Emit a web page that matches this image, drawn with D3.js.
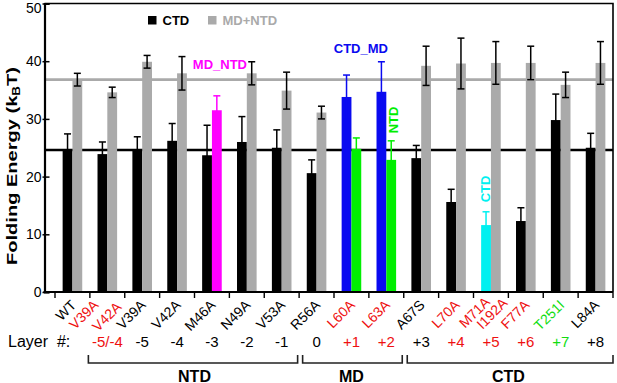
<!DOCTYPE html>
<html>
<head>
<meta charset="utf-8">
<script src="https://cdn.jsdelivr.net/npm/d3@7"></script>
<style>
  body { margin: 0; background: #fff; }
  svg { display: block; font-family: "Liberation Sans", Arial, sans-serif; }
</style>
</head>
<body>
<div id="chart"></div>
<script>
// mutants along the x axis (two line labels use "|")
var categories = ["WT", "V39A|V42A", "V39A", "V42A", "M46A", "N49A", "V53A", "R56A",
                  "L60A", "L63A", "A67S", "L70A", "M71A|I192A", "F77A", "T251I", "L84A"];
var layers = ["", "-5/-4", "-5", "-4", "-3", "-2", "-1", "0",
              "+1", "+2", "+3", "+4", "+5", "+6", "+7", "+8"];
// 0 = plain, 1 = red, 2 = green
var highlight = [0, 1, 0, 0, 0, 0, 0, 0, 1, 1, 0, 1, 1, 1, 2, 0];

// first bar of each pair (CTD)
var ctdValues = [24.6, 23.9, 24.6, 26.2, 23.7, 26.0, 25.0, 20.6, 33.8, 34.7, 23.2, 15.6, 11.6, 12.3, 29.8, 25.0];
var ctdErrors = [2.8, 2.1, 2.3, 3.0, 5.2, 4.4, 3.1, 2.3, 3.8, 5.2, 2.2, 2.2, 2.3, 2.3, 4.5, 2.5];
var ctdConstruct = ["CTD", "CTD", "CTD", "CTD", "CTD", "CTD", "CTD", "CTD",
                    "CTD_MD", "CTD_MD", "CTD", "CTD", "CTD*", "CTD", "CTD", "CTD"];

// second bar of each pair (MD+NTD)
var mdntdValues = [36.8, 34.6, 39.9, 37.9, 31.5, 37.9, 34.9, 31.1, 24.8, 22.9, 39.2, 39.6, 39.7, 39.7, 35.9, 39.7];
var mdntdErrors = [1.1, 0.9, 1.1, 2.9, 2.5, 2.0, 3.2, 1.1, 1.9, 3.3, 3.4, 4.4, 3.7, 2.9, 2.2, 3.7];
var mdntdConstruct = ["MD+NTD", "MD+NTD", "MD+NTD", "MD+NTD", "MD_NTD", "MD+NTD", "MD+NTD", "MD+NTD",
                      "NTD", "NTD", "MD+NTD", "MD+NTD", "MD+NTD", "MD+NTD", "MD+NTD", "MD+NTD"];

// WT reference levels
var wtLevels = [24.6, 36.8];

var yTicks = [0, 10, 20, 30, 40, 50];

var groups = [
    {name: "NTD", from: 1, to: 6},
    {name: "MD", from: 7, to: 9},
    {name: "CTD", from: 10, to: 15}
];

function init(){

    var W = 617, H = 383;
    var left = 44.5, right = 613, top = 3.5, bottom = 292;

    var colorOf = {
        "CTD": "#000000",
        "CTD*": "#00f0f0",
        "CTD_MD": "#0a0af0",
        "MD+NTD": "#aaaaaa",
        "MD_NTD": "#ff00ff",
        "NTD": "#00ee00"
    };
    var errColorOf = {
        "CTD": "#000", "CTD*": "#00f0f0", "CTD_MD": "#0a0af0",
        "MD+NTD": "#000", "MD_NTD": "#ff00ff", "NTD": "#00ee00"
    };
    var textColors = ["#000000", "#ee1111", "#11dd11"];

    var svg = d3.select("#chart")
                .append("svg")
                .attr("width", W)
                .attr("height", H);

    var yScale = d3.scaleLinear()
                .domain([0, 50])
                .range([bottom, top]);

    var xScale = d3.scaleBand()
                .domain(d3.range(categories.length))
                .range([55, right])
                .padding(0);

    var bw = xScale.bandwidth();
    var barW = 9.8;
    function cx(i){ return xScale(i) + bw / 2; }

    // WT reference lines (behind the bars)
    svg.selectAll("line.ref")
        .data(wtLevels)
        .enter()
        .append("line")
        .attr("class", "ref")
        .attr("x1", left)
        .attr("x2", right)
        .attr("y1", function(d){ return yScale(d); })
        .attr("y2", function(d){ return yScale(d); })
        .attr("stroke", function(d, i){ return i == 0 ? "#000" : "#aaaaaa"; })
        .attr("stroke-width", 2.6);

    // build the bar records
    var bars = [];
    categories.forEach(function(c, i){
        bars.push({i: i, side: 0, v: ctdValues[i], e: ctdErrors[i], k: ctdConstruct[i]});
        bars.push({i: i, side: 1, v: mdntdValues[i], e: mdntdErrors[i], k: mdntdConstruct[i]});
    });

    svg.selectAll("rect.bar")
        .data(bars)
        .enter()
        .append("rect")
        .attr("class", "bar")
        .attr("x", function(d){ return cx(d.i) - (d.side == 0 ? barW : 0); })
        .attr("y", function(d){ return yScale(d.v); })
        .attr("width", barW)
        .attr("height", function(d){ return yScale(0) - yScale(d.v); })
        .attr("fill", function(d){ return colorOf[d.k]; });

    // error bars
    var eb = svg.selectAll("g.err")
        .data(bars)
        .enter()
        .append("g")
        .attr("class", "err")
        .attr("stroke", function(d){ return errColorOf[d.k]; })
        .attr("stroke-width", 1.5)
        .attr("transform", function(d){
            return "translate(" + (cx(d.i) + (d.side == 0 ? -barW / 2 : barW / 2)) + ",0)";
        });
    eb.append("line")
        .attr("x1", 0).attr("x2", 0)
        .attr("y1", function(d){ return yScale(d.v - d.e); })
        .attr("y2", function(d){ return yScale(d.v + d.e); });
    eb.append("line")
        .attr("x1", -3.5).attr("x2", 3.5)
        .attr("y1", function(d){ return yScale(d.v + d.e); })
        .attr("y2", function(d){ return yScale(d.v + d.e); });
    eb.append("line")
        .attr("x1", -3.5).attr("x2", 3.5)
        .attr("y1", function(d){ return yScale(d.v - d.e); })
        .attr("y2", function(d){ return yScale(d.v - d.e); });

    // frame: top and right
    svg.append("path")
        .attr("d", "M" + left + "," + top + "H" + right + "V" + bottom)
        .attr("fill", "none")
        .attr("stroke", "#000")
        .attr("stroke-width", 1.6);

    // y axis
    var yAxis = d3.axisLeft(yScale)
        .tickValues(yTicks)
        .tickSize(-5)
        .tickPadding(3);
    var gy = svg.append("g")
        .attr("transform", "translate(" + left + ",0)")
        .call(yAxis);
    gy.select(".domain").attr("stroke-width", 2.2);
    gy.selectAll(".tick line").attr("stroke-width", 1.5).attr("x1", -2);
    gy.selectAll("text")
        .attr("font-size", "14px")
        .attr("font-family", "Liberation Sans, Arial, sans-serif")
        .attr("fill", "#000");
    // keep the top label inside the picture
    gy.selectAll(".tick text")
        .filter(function(d){ return d == 50; })
        .attr("dy", "0.62em");

    // x axis line and category boundary ticks
    svg.append("line")
        .attr("x1", left - 1).attr("x2", right)
        .attr("y1", bottom).attr("y2", bottom)
        .attr("stroke", "#000")
        .attr("stroke-width", 2);
    svg.selectAll("line.xtick")
        .data(d3.range(categories.length + 1))
        .enter()
        .append("line")
        .attr("class", "xtick")
        .attr("x1", function(d){ return 55 + d * bw; })
        .attr("x2", function(d){ return 55 + d * bw; })
        .attr("y1", bottom)
        .attr("y2", bottom + 6)
        .attr("stroke", "#000")
        .attr("stroke-width", 1.4);

    // rotated category labels
    var labelShift = {1: [[-8, 306], [15, 308]], 12: [[0, 303], [17.5, 304]]};
    var xLabels = [];
    categories.forEach(function(c, i){
        var parts = c.split("|");
        parts.forEach(function(p, j){
            var s = labelShift[i] ? labelShift[i][j] : [4.5, 306];
            xLabels.push({t: p, i: i, x: cx(i) + s[0], y: s[1]});
        });
    });
    svg.selectAll("text.xlab")
        .data(xLabels)
        .enter()
        .append("text")
        .attr("class", "xlab")
        .attr("transform", function(d){ return "translate(" + d.x + "," + d.y + ") rotate(-45)"; })
        .attr("text-anchor", "end")
        .attr("font-size", "14px")
        .attr("fill", function(d){ return textColors[highlight[d.i]]; })
        .text(function(d){ return d.t; });

    // layer row
    svg.append("text")
        .attr("x", 8)
        .attr("y", 347)
        .attr("font-size", "16px")
        .attr("xml:space", "preserve")
        .text("Layer  #:");
    svg.selectAll("text.layer")
        .data(layers)
        .enter()
        .append("text")
        .attr("class", "layer")
        .attr("x", function(d, i){ return cx(i); })
        .attr("y", 347)
        .attr("text-anchor", "middle")
        .attr("font-size", "15px")
        .attr("fill", function(d, i){ return textColors[highlight[i]]; })
        .text(function(d){ return d; });

    // domain brackets
    var gb = svg.selectAll("g.bracket")
        .data(groups)
        .enter()
        .append("g")
        .attr("class", "bracket");
    gb.append("path")
        .attr("d", function(d){
            var x0 = xScale(d.from) - 1.5, x1 = xScale(d.to) + bw - 1.5;
            if (d.from > 1) x0 = xScale(d.from) + 3.5;
            if (d.to == categories.length - 1) x1 = right;
            return "M" + x0 + ",355V363H" + x1 + "V355";
        })
        .attr("fill", "none")
        .attr("stroke", "#222")
        .attr("stroke-width", 1.6);
    gb.append("text")
        .attr("x", function(d){ return (xScale(d.from) + xScale(d.to) + bw) / 2; })
        .attr("y", 381.5)
        .attr("text-anchor", "middle")
        .attr("font-size", "16px")
        .attr("font-weight", "bold")
        .text(function(d){ return d.name; });

    // construct annotations
    svg.append("text")
        .attr("x", cx(4) + 8)
        .attr("y", 69)
        .attr("text-anchor", "middle")
        .attr("font-size", "13px")
        .attr("font-weight", "bold")
        .attr("fill", colorOf["MD_NTD"])
        .text("MD_NTD");
    svg.append("text")
        .attr("x", (cx(8) + cx(9)) / 2 - 8)
        .attr("y", 53)
        .attr("text-anchor", "middle")
        .attr("font-size", "13px")
        .attr("font-weight", "bold")
        .attr("fill", colorOf["CTD_MD"])
        .text("CTD_MD");
    svg.append("text")
        .attr("transform", "translate(" + (cx(9) + 12) + ",120) rotate(-90)")
        .attr("text-anchor", "middle")
        .attr("font-size", "13px")
        .attr("font-weight", "bold")
        .attr("fill", colorOf["NTD"])
        .text("NTD");
    svg.append("text")
        .attr("transform", "translate(" + (cx(12) - 0.5) + ",189) rotate(-90)")
        .attr("text-anchor", "middle")
        .attr("font-size", "13px")
        .attr("font-weight", "bold")
        .attr("fill", colorOf["CTD*"])
        .text("CTD");

    // legend
    var legend = [{t: "CTD", k: "CTD", x: 148}, {t: "MD+NTD", k: "MD+NTD", x: 208}];
    var lg = svg.selectAll("g.legend")
        .data(legend)
        .enter()
        .append("g")
        .attr("class", "legend")
        .attr("transform", function(d){ return "translate(" + d.x + ",16)"; });
    lg.append("rect")
        .attr("width", 8.5)
        .attr("height", 8.5)
        .attr("fill", function(d){ return colorOf[d.k]; });
    lg.append("text")
        .attr("x", 14.5)
        .attr("y", 8.5)
        .attr("font-size", "13px")
        .attr("font-weight", "bold")
        .attr("fill", function(d){ return colorOf[d.k]; })
        .text(function(d){ return d.t; });

    // y axis title
    var yt = svg.append("text")
        .attr("transform", "translate(17,166) rotate(-90)")
        .attr("text-anchor", "middle")
        .attr("font-size", "15px")
        .attr("font-weight", "bold")
        .attr("textLength", 198)
        .attr("lengthAdjust", "spacingAndGlyphs");
    yt.append("tspan").text("Folding Energy (k");
    yt.append("tspan").attr("font-size", "10px").attr("dy", 3).text("B");
    yt.append("tspan").attr("dy", -3).text("T)");
}

window.onload = init;
</script>
</body>
</html>
